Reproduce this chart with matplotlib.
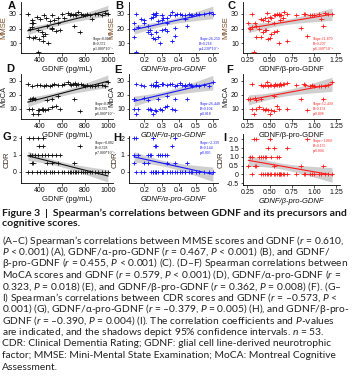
import numpy as np
import matplotlib
matplotlib.use("Agg")
import matplotlib.pyplot as plt

# ---------------- data (one entry per subject, n = 53) ----------------
gdnf = [306, 349, 391, 434, 394, 430, 752, 320, 335, 360, 390, 420, 450, 480, 510, 545, 580,
        334, 349, 466, 509, 560, 706,
        300, 340, 380, 410, 440, 460, 490, 515, 530, 560, 600, 620, 648, 665, 680, 693, 710,
        722, 740, 767, 785, 797, 815, 842, 860, 886, 916, 950, 976, 1000]
mmse = [14, 13.5, 4.5, 15, 13, 11.5, 18, 19.5, 21, 14, 19, 18, 16.5, 10, 20, 18.5, 19,
        24, 23.5, 22, 20.5, 24, 22,
        30, 26, 28, 26.5, 29, 27, 25, 29.5, 26, 27, 30, 27.5, 30.5, 29, 30, 29, 30,
        29.5, 31, 30, 29, 29.5, 30, 29.5, 26.5, 30, 30, 29, 30.5, 30]
moca = [10, 6, 6, 9, 9, 10, 8, 17, 10, 17, 9, 10, 9, 10, 11, 12, 10,
        17, 18, 16, 17, 19, 17,
        27.5, 26, 27, 27, 26.5, 27, 26, 27, 28, 27, 27, 28, 29, 28, 27, 28, 28.5,
        27, 27.5, 28, 27, 26.5, 27, 26, 26, 26.5, 27, 27, 26.5, 29]
cdr = [2, 2, 2, 2, 1.5, 1.5, 1.5, 1, 1, 1, 1, 1, 1, 1, 1, 1, 1,
       0.5, 0.5, 0.5, 0.5, 0.5, 0.5,
       0, 0, 0, 0, 0, 0, 0, 0, 0, 0, 0, 0, 0, 0, 0, 0, 0,
       0, 0, 0, 0, 0, 0, 0, 0, 0, 0, 0, 0, 0]
alpha_ratio = [0.14, 0.25, 0.15, 0.38, 0.26, 0.36, 0.27, 0.14, 0.16, 0.28, 0.30, 0.22, 0.24, 0.29, 0.32, 0.33, 0.23,
               0.14, 0.20, 0.22, 0.38, 0.33, 0.45,
               0.15, 0.20, 0.25, 0.18, 0.26, 0.24, 0.28, 0.27, 0.30, 0.33, 0.25, 0.31, 0.27, 0.35, 0.39, 0.30, 0.41,
               0.44, 0.36, 0.46, 0.42, 0.48, 0.50, 0.38, 0.44, 0.52, 0.55, 0.47, 0.58, 0.60]
beta_ratio = [0.35, 0.50, 0.32, 0.92, 0.48, 0.70, 0.55, 0.28, 0.30, 0.40, 0.45, 0.42, 0.52, 0.60, 0.38, 0.58, 0.46,
              0.26, 0.33, 0.35, 0.85, 0.55, 1.10,
              0.30, 0.42, 0.50, 0.40, 0.55, 0.45, 0.48, 0.60, 0.62, 0.52, 0.58, 0.65, 0.47, 0.62, 0.60, 0.56, 0.70,
              0.63, 0.66, 0.88, 0.80, 0.95, 0.90, 1.00, 1.08, 1.05, 1.15, 0.98, 1.12, 1.20]

x_labels = ["GDNF (pg/mL)", "GDNF/\u03b1-pro-GDNF", "GDNF/\u03b2-pro-GDNF"]
y_labels = ["MMSE", "MoCA", "CDR"]
panel_letters = ["A", "B", "C", "D", "E", "F", "G", "H", "I"]
stats_text = [
    "Slope:0.019\nR\u00b2:0.372\np:1.000*10\u207b\u2077",
    "Slope:26.250\nR\u00b2:0.218\np:4.230*10\u207b\u2074",
    "Slope:11.870\nR\u00b2:0.207\np:6.160*10\u207b\u2074",
    "Slope:0.027\nR\u00b2:0.335\np:6.000*10\u207b\u2076",
    "Slope:26.440\nR\u00b2:0.104\np:0.018",
    "Slope:12.430\nR\u00b2:0.131\np:0.008",
    "Slope:-0.002\nR\u00b2:0.328\np:7.000*10\u207b\u2076",
    "Slope:-2.339\nR\u00b2:0.144\np:0.005",
    "Slope:-1.060\nR\u00b2:0.155\np:0.004",
]
x_ticks = [[400, 600, 800, 1000], [0.2, 0.3, 0.4, 0.5, 0.6], [0.25, 0.50, 0.75, 1.00, 1.25]]
x_ticklabels = [["400", "600", "800", "1000"], ["0.2", "0.3", "0.4", "0.5", "0.6"],
                ["0.25", "0.50", "0.75", "1.00", "1.25"]]

title_lines = ["Figure 3  |  Spearman\u2019s correlations between GDNF and its precursors and",
               "cognitive scores."]
body_lines = [
    "(A\u2013C) Spearman\u2019s correlations between MMSE scores and GDNF ($r$ = 0.610,",
    "$P$ < 0.001) (A), GDNF/\u03b1-pro-GDNF ($r$ = 0.467, $P$ < 0.001) (B), and GDNF/",
    "\u03b2-pro-GDNF ($r$ = 0.455, $P$ < 0.001) (C). (D\u2013F) Spearman correlations between",
    "MoCA scores and GDNF ($r$ = 0.579, $P$ < 0.001) (D), GDNF/\u03b1-pro-GDNF ($r$ =",
    "0.323, $P$ = 0.018) (E), and GDNF/\u03b2-pro-GDNF ($r$ = 0.362, $P$ = 0.008) (F). (G\u2013",
    "I) Spearman\u2019s correlations between CDR scores and GDNF ($r$ = \u20130.573, $P$ <",
    "0.001) (G), GDNF/\u03b1-pro-GDNF ($r$ = \u20130.379, $P$ = 0.005) (H), and GDNF/\u03b2-pro-",
    "GDNF ($r$ = \u20130.390, $P$ = 0.004) (I). The correlation coefficients and $P$-values",
    "are indicated, and the shadows depict 95% confidence intervals. $n$ = 53.",
    "CDR: Clinical Dementia Rating; GDNF: glial cell line-derived neurotrophic",
    "factor; MMSE: Mini-Mental State Examination; MoCA: Montreal Cognitive",
    "Assessment.",
]

# ---------------- styling / layout ----------------
plt.rcParams["font.family"] = ["Liberation Sans", "DejaVu Sans"]
plt.rcParams["mathtext.fontset"] = "custom"
plt.rcParams["mathtext.rm"] = "Lato"
plt.rcParams["mathtext.it"] = "Lato:italic"

W, H = 352, 380
fig = plt.figure(figsize=(W / 100, H / 100), dpi=100)
fig.patch.set_facecolor("white")


def add_ax(l, t, r, b):
    a = fig.add_axes([l / W, 1 - b / H, (r - l) / W, (b - t) / H])
    a.set_facecolor("none")
    return a


cols_px = [(21, 113), (129, 218), (243, 340)]
rows_px = [(2, 53), (74, 119), (136, 183)]
colors = ["#111111", "#1515ff", "#ff1a1a"]
xerr_half = [22, 0.012, 0.028]
xlims = [(240, 1045), (0.11, 0.63), (0.2, 1.29)]
ylims = [(3.5, 38), (2.5, 35), (-0.66, 2.12)]
y_ticks = [[10, 20, 30], [10, 20, 30], [0, 1, 2]]
ylabel_colors = ["#7a4a22", "#222222", "#3a2a1e"]
stat_pos = [(0.78, 0.32), (0.79, 0.32), (0.72, 0.32),
            (0.80, 0.38), (0.80, 0.38), (0.72, 0.38),
            (0.80, 0.90), (0.80, 0.90), (0.72, 0.90)]
italic_xlabel = [False, True, False, False, True, False, False, True, True]

xs_data = [gdnf, alpha_ratio, beta_ratio]
ys_data = [mmse, moca, cdr]


def fit_ci(x, y, tval=2.008, num=100):
    x = np.asarray(x, float)
    y = np.asarray(y, float)
    n = len(x)
    b, a = np.polyfit(x, y, 1)
    xs = np.linspace(x.min(), x.max(), num)
    yhat = a + b * xs
    resid = y - (a + b * x)
    s = np.sqrt(np.sum(resid ** 2) / (n - 2))
    se = s * np.sqrt(1 / n + (xs - x.mean()) ** 2 / np.sum((x - x.mean()) ** 2))
    return xs, yhat, yhat - tval * se, yhat + tval * se


for r in range(3):
    for c in range(3):
        k = r * 3 + c
        l, rr = cols_px[c]
        t, b = rows_px[r]
        if r == 2 and c == 2:
            t, b = 134, 185
        ax = add_ax(l, t, rr, b)
        x = xs_data[c]
        y = ys_data[r]
        col = colors[c]
        xs, yhat, lo, hi = fit_ci(x, y)
        ax.fill_between(xs, lo, hi, color="#c4c4c4", alpha=0.8, lw=0, zorder=1)
        ax.errorbar(x, y, xerr=xerr_half[c], fmt="+", color=col, ms=3, mew=0.6,
                    elinewidth=0.5, capsize=0, zorder=3)
        ax.plot(xs, yhat, color=col, lw=0.8, zorder=4)
        ax.set_xlim(*xlims[c])
        if c == 2 and r == 2:
            ax.set_ylim(-0.6, 2.3)
            ax.set_yticks([-0.5, 0, 0.5, 1.0, 1.5, 2.0])
            ax.set_yticklabels(["-0.5", "0", "0.5", "1.0", "1.5", "2.0"])
        else:
            ax.set_ylim(*ylims[r])
            ax.set_yticks(y_ticks[r])
            ax.set_yticklabels([str(v) for v in y_ticks[r]])
        ax.set_xticks(x_ticks[c])
        ax.set_xticklabels(x_ticklabels[c])
        for sp in ["top", "right"]:
            ax.spines[sp].set_visible(False)
        for sp in ["left", "bottom"]:
            ax.spines[sp].set_linewidth(0.6)
        ax.tick_params(labelsize=5, length=1.8, width=0.5, pad=1.2, colors="#111111")
        ax.set_xlabel(x_labels[c], fontsize=5.5, labelpad=1.0, color="#111111",
                      style="italic" if italic_xlabel[k] else "normal")
        ax.set_ylabel(y_labels[r], fontsize=5.5, labelpad=1.5, color=ylabel_colors[r])
        ax.text(stat_pos[k][0], stat_pos[k][1], stats_text[k], transform=ax.transAxes,
                fontsize=2.8, color=col, ha="left", va="top", linespacing=1.35,
                family=["Liberation Serif", "DejaVu Serif"])

# panel letters
letter_xy = [(12, 6), (119, 6), (231, 6),
             (10, 69), (118, 70), (230, 70),
             (7, 137), (117, 138), (225, 138)]
for k, (px, py) in enumerate(letter_xy):
    fig.text(px / W, 1 - py / H, panel_letters[k], fontsize=8, weight="bold",
             ha="center", va="center", color="#111111")

# ---------------- caption ----------------
renderer = fig.canvas.get_renderer()


def fit_size(s, target, **kw):
    tt = fig.text(0, 0, s, fontsize=10, **kw)
    w = tt.get_window_extent(renderer).width
    tt.remove()
    return 10 * target / w


cap_family = ["Lato", "DejaVu Sans"]
fs_title = fit_size(title_lines[0], 344, weight="bold", family=cap_family)
fs_body = fit_size(body_lines[0], 344, family=cap_family)

title_y = [213, 224]
for i, s in enumerate(title_lines):
    fig.text(2 / W, 1 - title_y[i] / H, s, fontsize=fs_title, weight="bold",
             family=cap_family, ha="left", va="center", color="#1a1a1a")
for i, s in enumerate(body_lines):
    yy = 240.5 + 11.5 * i
    fig.text(2 / W, 1 - yy / H, s, fontsize=fs_body, family=cap_family,
             ha="left", va="center", color="#222222")

fig.savefig("out.png", dpi=100, facecolor="white")
